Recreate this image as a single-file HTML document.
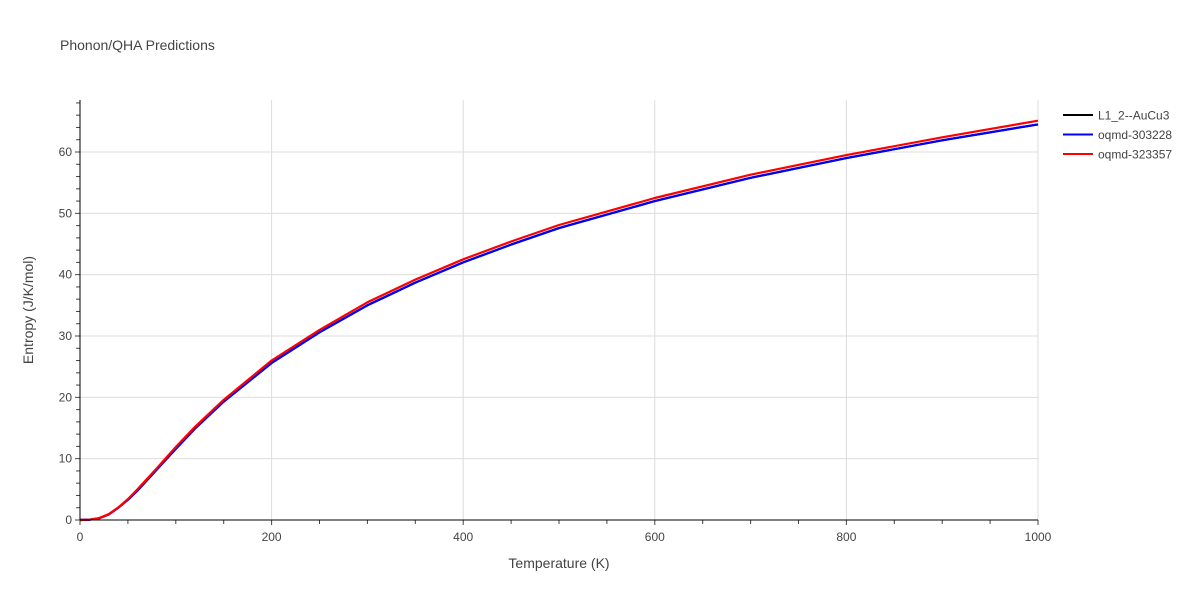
<!DOCTYPE html>
<html><head><meta charset="utf-8"><style>
body{margin:0;background:#fff;font-family:"Liberation Sans",sans-serif;}
svg text{font-family:"Liberation Sans",sans-serif;}
</style></head><body>
<svg width="1200" height="600" xmlns="http://www.w3.org/2000/svg">
<rect width="1200" height="600" fill="#fff"/>
<text x="60" y="50" font-size="14" fill="#444">Phonon/QHA Predictions</text>
<g id="grid"></g>
<g id="series"></g>
<g id="axes"></g>
<text x="559" y="568" font-size="14" fill="#444" text-anchor="middle">Temperature (K)</text>
<text transform="translate(33,310) rotate(-90)" font-size="14" fill="#444" text-anchor="middle">Entropy (J/K/mol)</text>
<g id="legend"></g>
</svg>
<script>
const temps=[0,10,20,30,40,50,60,80,100,120,150,200,250,300,350,400,450,500,600,700,800,900,1000];
const sBlack=[0,0.05,0.3,0.9,2,3.3,4.8,8.2,11.6,14.9,19.3,25.6,30.6,35,38.7,42,44.9,47.6,52,55.8,59,61.9,64.5];
const sBlue=[0,0.05,0.3,0.9,2,3.3,4.8,8.2,11.6,14.9,19.3,25.6,30.6,35,38.7,42,44.9,47.6,52,55.8,59,61.9,64.5];
const sRed=[0,0.05,0.3,0.95,2.05,3.4,5,8.4,11.9,15.2,19.6,26,31,35.5,39.2,42.5,45.4,48.1,52.5,56.3,59.5,62.4,65.1];
const xTicks=[0,200,400,600,800,1000];
const yTicks=[0,10,20,30,40,50,60];
const seriesNames=["L1_2--AuCu3","oqmd-303228","oqmd-323357"];
const ns="http://www.w3.org/2000/svg";
const X=v=>80+v*(1038-80)/1000;
const Y=v=>520-v*(520-152)/60;
function mk(tag,attrs,parent){const e=document.createElementNS(ns,tag);for(const k in attrs)e.setAttribute(k,attrs[k]);parent.appendChild(e);return e;}
const grid=document.getElementById('grid'),axes=document.getElementById('axes'),ser=document.getElementById('series'),leg=document.getElementById('legend');
xTicks.forEach(t=>{
 if(t>0){const l=mk('line',{x1:X(t),x2:X(t),y1:100,y2:520,stroke:'#ddd'},grid);
 
 }
 const tx=mk('text',{x:X(t),y:541,'font-size':12,fill:'#444','text-anchor':'middle'},axes);tx.textContent=t;
 
 
});
for(let t=0;t<=1000;t+=50){mk('line',{x1:X(t),x2:X(t),y1:520,y2:t%200==0?525:524,stroke:'#444'},axes);}
yTicks.forEach(t=>{
 if(t>0){const l=mk('line',{x1:80,x2:1038,y1:Y(t),y2:Y(t),stroke:'#ddd'},grid);
 
 }
 const tx=mk('text',{x:72,y:Y(t)+4,'font-size':12,fill:'#444','text-anchor':'end'},axes);tx.textContent=t;
 
 
});
for(let t=0;t<=68;t+=2){mk('line',{x1:t%10==0?75:76,x2:80,y1:Y(t),y2:Y(t),stroke:'#444'},axes);}
mk('line',{x1:80,x2:1038,y1:520,y2:520,stroke:'#000'},axes);
mk('line',{x1:80,x2:80,y1:100,y2:520,stroke:'#000'},axes);
const all=[[sBlack,'#000'],[sBlue,'#0000ff'],[sRed,'#ff0000']];
all.forEach((s,i)=>{
 const p=mk('path',{d:temps.map((t,j)=>(j?'L':'M')+X(t).toFixed(1)+','+Y(s[0][j]).toFixed(1)).join(''),fill:'none',stroke:s[1],'stroke-width':2.2,'stroke-linejoin':'round'},ser);
 
 
 const g=mk('g',{},leg);
 
 
 const y=115+i*19.5;
 mk('line',{x1:1063,x2:1093,y1:y,y2:y,stroke:s[1],'stroke-width':2},g);
 const tx=mk('text',{x:1098,y:y+4.5,'font-size':12,fill:'#444'},g);tx.textContent=seriesNames[i];
});
</script>
</body></html>
